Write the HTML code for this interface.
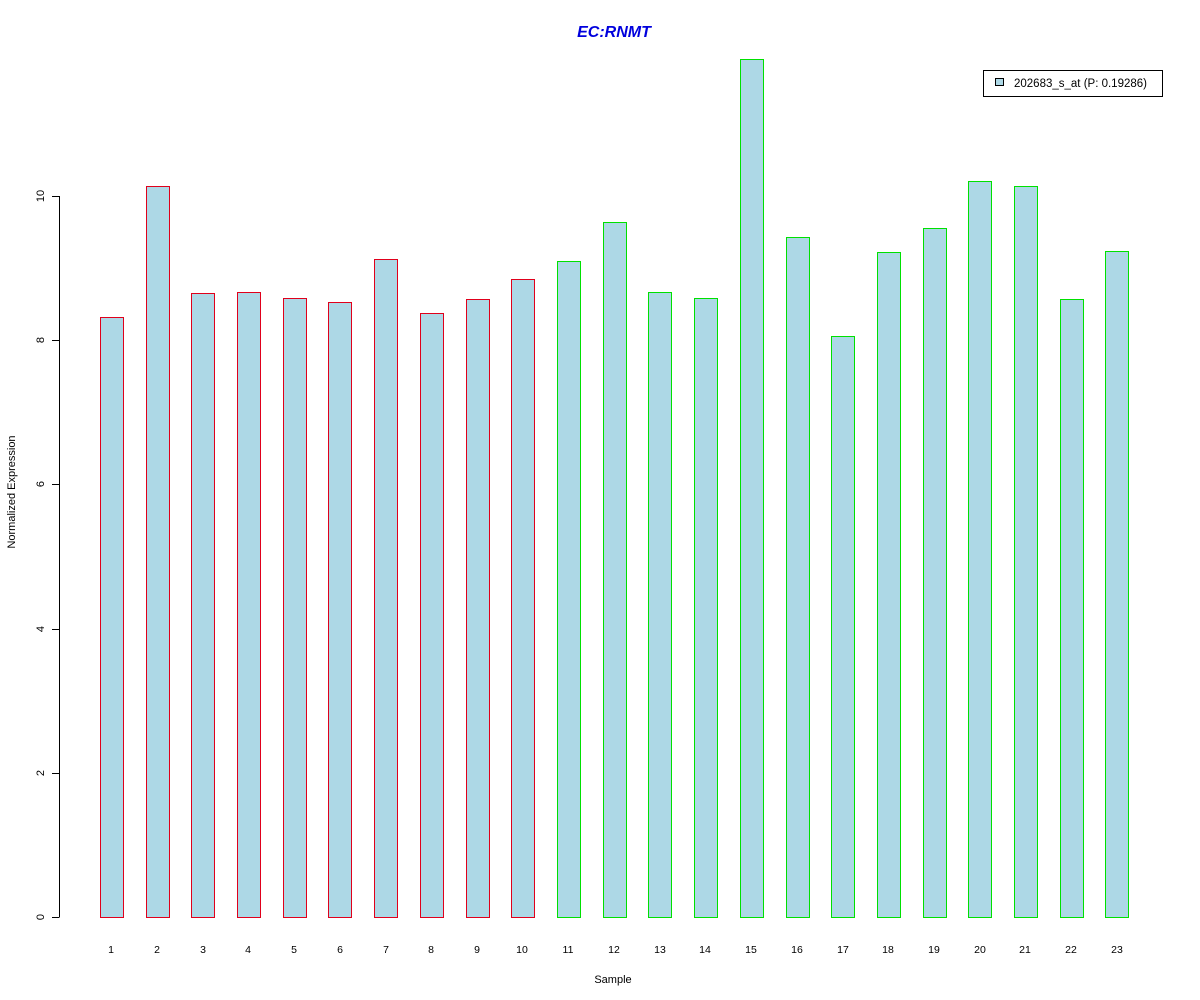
<!DOCTYPE html>
<html><head><style>body{margin:0;background:#fff}svg{display:block}text{font-family:"Liberation Sans",sans-serif}</style></head>
<body>
<svg width="1200" height="1000" xmlns="http://www.w3.org/2000/svg">
<text x="614" y="37" font-size="16" font-weight="bold" font-style="italic" fill="#0000dd" text-anchor="middle">EC:RNMT</text>
<g stroke="#000" stroke-width="1" shape-rendering="crispEdges">
<line x1="59.5" y1="196" x2="59.5" y2="917"/>
<line x1="52" y1="917.5" x2="59.5" y2="917.5"/>
<line x1="52" y1="773.5" x2="59.5" y2="773.5"/>
<line x1="52" y1="629.5" x2="59.5" y2="629.5"/>
<line x1="52" y1="484.5" x2="59.5" y2="484.5"/>
<line x1="52" y1="340.5" x2="59.5" y2="340.5"/>
<line x1="52" y1="196.5" x2="59.5" y2="196.5"/>
</g>
<g font-size="11" text-anchor="middle">
<text transform="translate(44,917) rotate(-90)">0</text>
<text transform="translate(44,773) rotate(-90)">2</text>
<text transform="translate(44,629) rotate(-90)">4</text>
<text transform="translate(44,484) rotate(-90)">6</text>
<text transform="translate(44,340) rotate(-90)">8</text>
<text transform="translate(44,196) rotate(-90)">10</text>
<text transform="translate(15,492) rotate(-90)">Normalized Expression</text>
<text x="613" y="983">Sample</text>
</g>
<g fill="#add8e6" stroke-width="1" stroke="#e0001b" shape-rendering="crispEdges">
<rect x="100.5" y="317.5" width="23" height="600"/>
<rect x="146.5" y="186.5" width="23" height="731"/>
<rect x="191.5" y="293.5" width="23" height="624"/>
<rect x="237.5" y="292.5" width="23" height="625"/>
<rect x="283.5" y="298.5" width="23" height="619"/>
<rect x="328.5" y="302.5" width="23" height="615"/>
<rect x="374.5" y="259.5" width="23" height="658"/>
<rect x="420.5" y="313.5" width="23" height="604"/>
<rect x="466.5" y="299.5" width="23" height="618"/>
<rect x="511.5" y="279.5" width="23" height="638"/>
</g>
<g fill="#add8e6" stroke-width="1" stroke="#00e000" shape-rendering="crispEdges">
<rect x="557.5" y="261.5" width="23" height="656"/>
<rect x="603.5" y="222.5" width="23" height="695"/>
<rect x="648.5" y="292.5" width="23" height="625"/>
<rect x="694.5" y="298.5" width="23" height="619"/>
<rect x="740.5" y="59.5" width="23" height="858"/>
<rect x="786.5" y="237.5" width="23" height="680"/>
<rect x="831.5" y="336.5" width="23" height="581"/>
<rect x="877.5" y="252.5" width="23" height="665"/>
<rect x="923.5" y="228.5" width="23" height="689"/>
<rect x="968.5" y="181.5" width="23" height="736"/>
<rect x="1014.5" y="186.5" width="23" height="731"/>
<rect x="1060.5" y="299.5" width="23" height="618"/>
<rect x="1105.5" y="251.5" width="23" height="666"/>
</g>
<g font-size="10.5" text-anchor="middle">
<text x="111" y="953">1</text><text x="157" y="953">2</text><text x="203" y="953">3</text><text x="248" y="953">4</text><text x="294" y="953">5</text><text x="340" y="953">6</text><text x="386" y="953">7</text><text x="431" y="953">8</text><text x="477" y="953">9</text><text x="522" y="953">10</text><text x="568" y="953">11</text><text x="614" y="953">12</text><text x="660" y="953">13</text><text x="705" y="953">14</text><text x="751" y="953">15</text><text x="797" y="953">16</text><text x="843" y="953">17</text><text x="888" y="953">18</text><text x="934" y="953">19</text><text x="980" y="953">20</text><text x="1025" y="953">21</text><text x="1071" y="953">22</text><text x="1117" y="953">23</text>
</g>
<rect x="983.5" y="70.5" width="179" height="26" fill="#fff" stroke="#000" shape-rendering="crispEdges"/>
<rect x="995.5" y="78.5" width="8" height="7" fill="#add8e6" stroke="#000" shape-rendering="crispEdges"/>
<text x="1014" y="87" font-size="11.5">202683_s_at (P: 0.19286)</text>
</svg>
</body></html>
